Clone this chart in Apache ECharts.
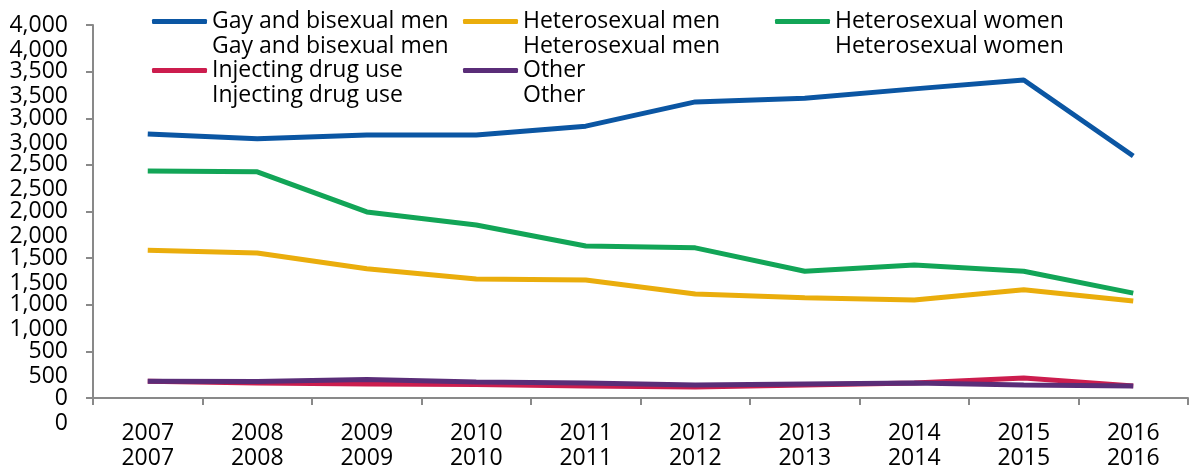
<!DOCTYPE html>
<html>
<head>
<meta charset="utf-8">
<script src="https://cdn.jsdelivr.net/npm/echarts@6/dist/echarts.min.js"></script>
<style>
  html, body { margin: 0; padding: 0; background: #fff; }
  #chart { width: 1192px; height: 473px; }
</style>
</head>
<body>
<div id="chart"></div>
<script>
// data
var years = ['2007', '2008', '2009', '2010', '2011', '2012', '2013', '2014', '2015', '2016'];
var gayBi = [2830, 2780, 2820, 2820, 2915, 3175, 3215, 3315, 3410, 2595];
var hetMen = [1585, 1555, 1385, 1275, 1265, 1115, 1075, 1050, 1160, 1040];
var hetWomen = [2435, 2425, 1995, 1855, 1630, 1610, 1360, 1425, 1360, 1125];
var idu = [180, 160, 150, 145, 130, 118, 140, 160, 215, 130];
var other = [180, 178, 198, 172, 162, 140, 150, 160, 140, 130];

var names = ['Gay and bisexual men', 'Heterosexual men', 'Heterosexual women', 'Injecting drug use', 'Other'];
var colors = ['#0b56a3', '#eaad0c', '#12a557', '#cc1d4e', '#5a2d78'];

var fontFam = '"Open Sans", sans-serif';
var fontSize = 23;

// legend text printed twice, one under the other; the empty first line
// keeps the first copy centred on its icon
function twice(s) {
    return '\n' + s + '\n' + s;
}

function legendCol(left, items) {
    return {
        left: left,
        top: -16,
        orient: 'vertical',
        padding: 0,
        itemGap: -26,
        itemWidth: 55,
        itemHeight: 5,
        icon: 'roundRect',
        data: items,
        formatter: function (name) { return twice(name); },
        textStyle: {
            fontFamily: fontFam,
            fontSize: fontSize,
            lineHeight: 25,
            color: '#000'
        }
    };
}

function yLabels() {
    return {
        margin: 25,
        showMinLabel: true,
        showMaxLabel: true,
        fontFamily: fontFam,
        fontSize: fontSize,
        lineHeight: 25,
        color: '#000',
        formatter: function (v) { return v.toLocaleString('en-US'); }
    };
}

var chart = echarts.init(document.getElementById('chart'));

var series = [gayBi, hetMen, hetWomen, idu, other].map(function (vals, i) {
    return {
        name: names[i],
        type: 'line',
        data: vals,
        symbol: 'none',
        lineStyle: { width: 5, color: colors[i] },
        itemStyle: { color: colors[i] }
    };
});

chart.setOption({
    animation: false,
    backgroundColor: '#fff',
    legend: [
        legendCol(152, ['Gay and bisexual men', 'Injecting drug use']),
        legendCol(463, ['Heterosexual men', 'Other']),
        legendCol(775, ['Heterosexual women'])
    ],
    // second grid is the same plot shifted 25px down: it only carries
    // the repeated y tick labels
    grid: [
        { left: 93, right: 4, top: 25, bottom: 75, containLabel: false, outerBoundsMode: 'none' },
        { left: 93, right: 4, top: 50, bottom: 50, containLabel: false, outerBoundsMode: 'none' }
    ],
    xAxis: [{
        type: 'category',
        data: years,
        boundaryGap: true,
        axisLine: { lineStyle: { color: '#898989', width: 2 } },
        axisTick: { show: true, length: 7, lineStyle: { color: '#898989', width: 2 } },
        axisLabel: {
            margin: 23,
            interval: 0,
            fontFamily: fontFam,
            fontSize: fontSize,
            lineHeight: 25,
            color: '#000',
            formatter: function (v) { return v + '\n' + v; }
        }
    }, {
        gridIndex: 1,
        type: 'category',
        data: years,
        show: false
    }],
    yAxis: [{
        type: 'value',
        min: 0,
        max: 4000,
        interval: 500,
        splitLine: { show: false },
        axisLine: { show: true, lineStyle: { color: '#898989', width: 2 } },
        axisTick: { show: true, length: 7, lineStyle: { color: '#898989', width: 2 } },
        axisLabel: yLabels()
    }, {
        gridIndex: 1,
        type: 'value',
        min: 0,
        max: 4000,
        interval: 500,
        splitLine: { show: false },
        axisLine: { show: false },
        axisTick: { show: false },
        axisLabel: yLabels()
    }],
    series: series
});

window.onresize = function () {
    chart.resize();
};
</script>
</body>
</html>
